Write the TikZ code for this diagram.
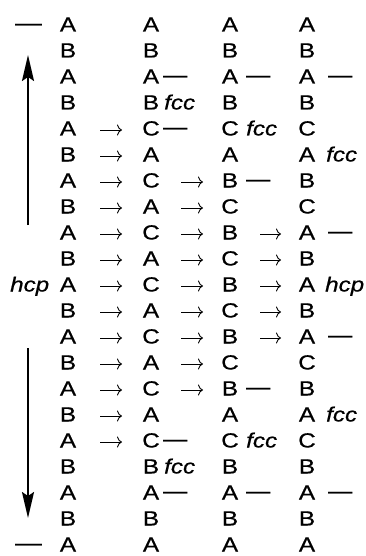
\documentclass[tikz,border=0pt]{standalone}
\usepackage{fontspec}
\setmainfont[FakeStretch=1.18,FakeBold=0.6]{Liberation Sans}
\usetikzlibrary{arrows.meta}
\newcommand\ltrfont{\fontsize{20.5}{21}\selectfont}
\begin{document}
\begin{tikzpicture}[x=1pt,y=-1pt,
  ltr/.style={font=\ltrfont, anchor=base, inner sep=0pt, text height=11pt, text depth=0pt},
  dsh/.style={font=\ltrfont, anchor=base west, inner sep=0pt, yshift=1.7pt},
  lab/.style={font=\ltrfont\itshape, anchor=base west, inner sep=0pt},
  harr/.style={line width=0.9pt, -{To[length=5pt,width=11pt]}},
  harr1/.style={harr, shorten <=32pt, shorten >=29pt},
  harr2/.style={harr, shorten <=30pt, shorten >=27pt},
  harr3/.style={harr, shorten <=30pt, shorten >=26pt},
  varr/.style={line width=2pt, -{Stealth[length=26pt,width=12pt,inset=4pt]}}]
\path[use as bounding box, fill=white] (0,0) rectangle (366,556);
% letters
\foreach \r/\a/\b/\c/\d in {1/A/A/A/A,2/B/B/B/B,3/A/A/A/A,4/B/B/B/B,5/A/C/C/C,6/B/A/A/A,7/A/C/B/B,8/B/A/C/C,9/A/C/B/A,10/B/A/C/B,11/A/C/B/A,12/B/A/C/B,13/A/C/B/A,14/B/A/C/C,15/A/C/B/B,16/B/A/A/A,17/A/C/C/C,18/B/B/B/B,19/A/A/A/A,20/B/B/B/B,21/A/A/A/A}{
  \pgfmathsetmacro\yb{31.5+(\r-1)*26}
  \node[ltr] (r\r-c1) at (68,\yb) {\a};
  \node[ltr] (r\r-c2) at (151,\yb) {\b};
  \node[ltr] (r\r-c3) at (230,\yb) {\c};
  \node[ltr] (r\r-c4) at (307,\yb) {\d};
}
% horizontal arrows
\foreach \r/\k/\n in {5/1/2,6/1/2,7/1/2,8/1/2,9/1/2,10/1/2,11/1/2,12/1/2,13/1/2,14/1/2,15/1/2,16/1/2,17/1/2,
  7/2/3,8/2/3,9/2/3,10/2/3,11/2/3,12/2/3,13/2/3,14/2/3,15/2/3,
  9/3/4,10/3/4,11/3/4,12/3/4,13/3/4}{
  \draw[harr\k] (r\r-c\k.center) -- (r\r-c\n.center);
}
% dashes
\foreach \r/\x in {3/163,3/246,3/328,5/163,7/246,9/328,13/328,15/246,17/163,19/163,19/246,19/328}{
  \pgfmathsetmacro\yb{31.5+(\r-1)*26}
  \node[dsh] (d\r-\x) at (\x,\yb) {—};
}
\node[dsh, xscale=1.1] (dtop) at (15,31.5) {—};
\node[dsh, xscale=1.1] (dbot) at (15,551.5) {—};
% labels
\node[lab] (fcc4) at (164,109.5) {fcc};
\node[lab] (fcc18) at (164,473.5) {fcc};
\node[lab] (fcc5) at (246,135.5) {fcc};
\node[lab] (fcc17) at (246,447.5) {fcc};
\node[lab] (fcc6) at (326,161.5) {fcc};
\node[lab] (fcc16) at (326,421.5) {fcc};
\node[lab] (hcpR) at (325,291.5) {hcp};
\node[lab] (hcpL) at (10,291.5) {hcp};
% vertical arrows
\coordinate (up-base) at (28,225);
\coordinate (up-tip) at (28,55);
\coordinate (dn-base) at (28,348);
\coordinate (dn-tip) at (28,518);
\draw[varr] (up-base) -- (up-tip);
\draw[varr] (dn-base) -- (dn-tip);
\end{tikzpicture}
\end{document}
